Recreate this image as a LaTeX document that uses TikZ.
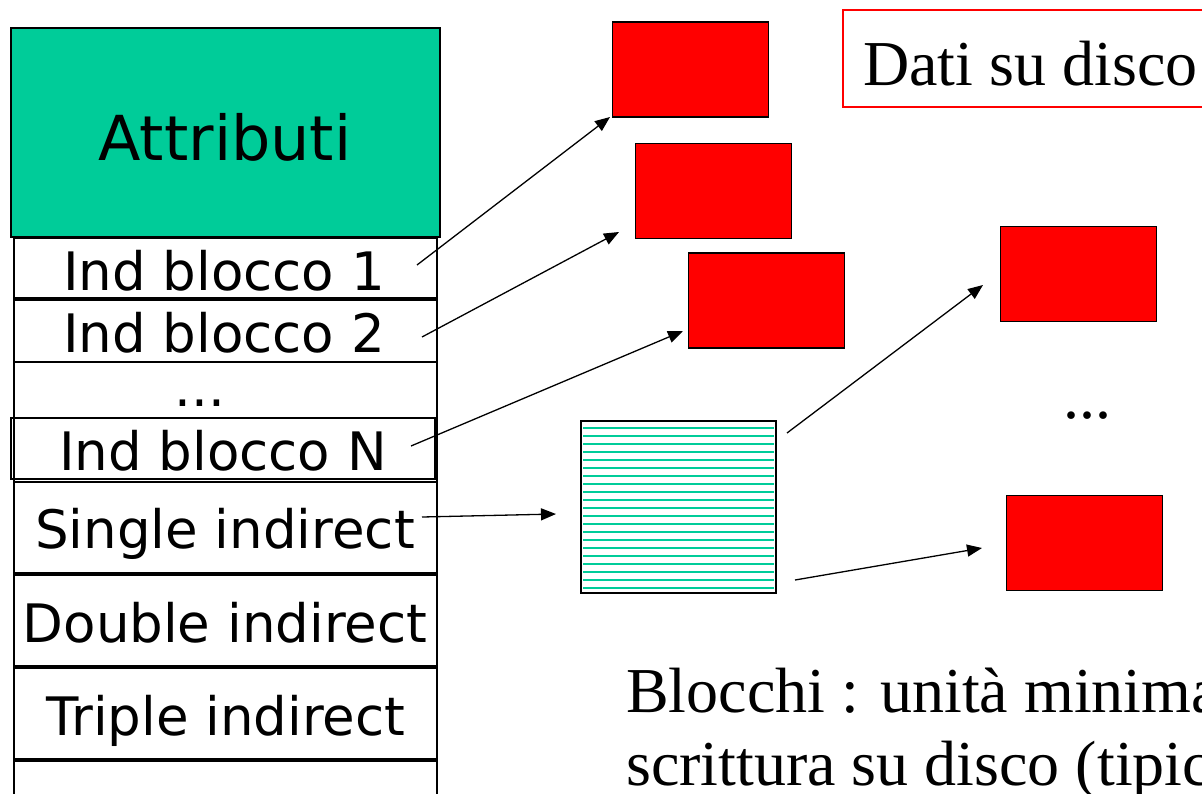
\documentclass[tikz,border=0pt]{standalone}
\usepackage{fontspec}
\setmainfont{Liberation Serif}
\newfontfamily\dvsans{DejaVu Sans}
\usetikzlibrary{arrows.meta}
\definecolor{attrgreen}{RGB}{0,204,153}
\begin{document}
\begin{tikzpicture}[x=1pt,y=-1pt,
  cell/.style={draw=black, line width=1.3pt, inner sep=0pt, minimum width=423pt},
  lbl/.style={inner sep=0pt, anchor=base, font=\dvsans\fontsize{53}{60}\selectfont},
  blk/.style={draw=black, fill=red, line width=1.3pt, inner sep=0pt, minimum width=156pt, minimum height=95pt},
  serif/.style={inner sep=0pt, anchor=base west, font=\fontsize{64}{73}\selectfont},
  arr/.style={line width=1.3pt, -{Triangle[length=15pt,width=12pt]}}]
\useasboundingbox (0,0) rectangle (1202,793);
% left column
\draw[line width=1.3pt] (14,238) -- (14,800) (437,238) -- (437,800);
\node[cell, fill=attrgreen, minimum width=429pt, minimum height=209pt] (attr) at (225.5,132.5) {};
\node[lbl, font=\dvsans\fontsize{62}{68}\selectfont] (tattr) at (225,160) {Attributi};
\node[cell, minimum height=60pt] (b1) at (225.5,268) {};
\node[lbl] (tb1) at (224,290) {Ind blocco 1};
\node[cell, minimum height=62pt] (b2) at (225.5,331) {};
\node[lbl] (tb2) at (224,352) {Ind blocco 2};
\node[lbl] (tdots) at (200,406) {...};
\node[cell, minimum width=424pt, minimum height=61pt] (bN) at (223,448.5) {};
\node[lbl] (tbN) at (223,470) {Ind blocco N};
\node[cell, minimum height=91pt] (bs) at (225.5,527.5) {};
\node[lbl] (tbs) at (225,548) {Single indirect};
\node[cell, minimum height=91pt] (bd) at (225.5,620.5) {};
\node[lbl] (tbd) at (225,642) {Double indirect};
\node[cell, minimum height=91pt] (bt) at (225.5,713.5) {};
\node[lbl] (tbt) at (226,735) {Triple indirect};
\node[cell, minimum height=60pt] (bl) at (225.5,791) {};
% data blocks
\node[blk] (r1) at (690.5,69.5) {};
\node[blk] (r2) at (713.5,191) {};
\node[blk] (r3) at (766.5,300.5) {};
\node[blk] (r4) at (1078.5,274) {};
\node[blk] (r5) at (1084.5,543) {};
% index block
\node[draw=black, line width=1.5pt, inner sep=0pt, minimum width=195pt, minimum height=172pt] (ib) at (678.5,507) {};
\foreach \k in {0,...,20}{
  \draw[attrgreen, line width=2.5pt] (583,428+8*\k) -- (774,428+8*\k);
}
% legend
\node[draw=red, line width=1.3pt, inner sep=0pt, minimum width=372pt, minimum height=97pt] (legend) at (1029,58.5) {};
\node[serif] (tlegend) at (863,85) {Dati su disco};
\node[serif] (tdots2) at (1063,418) {...};
\node[serif] (tblocchi) at (626,712) {Blocchi : unità minima};
\node[serif] (tscritt) at (626,785) {scrittura su disco (tipic};
% connectors
\coordinate (s1) at (417,265); \coordinate (e1) at (610,117);
\coordinate (s2) at (422,337); \coordinate (e2) at (619,232);
\coordinate (s3) at (411,446); \coordinate (e3) at (683,331);
\coordinate (s4) at (422,517); \coordinate (e4) at (556,514);
\coordinate (s5) at (787,433); \coordinate (e5) at (983,285);
\coordinate (s6) at (795,580); \coordinate (e6) at (982,548);
\draw[arr] (s1) -- (e1);
\draw[arr] (s2) -- (e2);
\draw[arr] (s3) -- (e3);
\draw[arr] (s4) -- (e4);
\draw[arr] (s5) -- (e5);
\draw[arr] (s6) -- (e6);
\end{tikzpicture}
\end{document}
